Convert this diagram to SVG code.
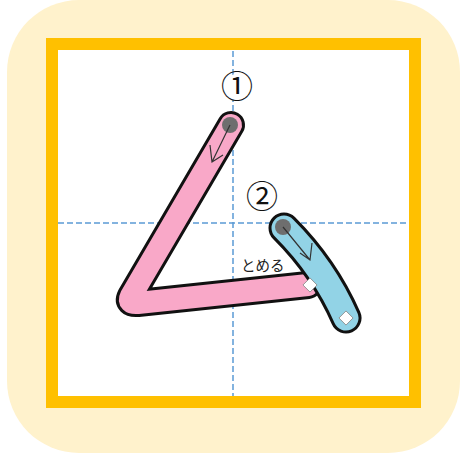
<svg xmlns="http://www.w3.org/2000/svg" width="463" height="457" viewBox="0 0 463 457">
<style>
.guide{stroke:#5B9BD5;stroke-width:1.5;stroke-dasharray:6 3;fill:none}
.outline{fill:none;stroke:#111;stroke-width:28;stroke-linecap:round;stroke-linejoin:round}
.pink{fill:none;stroke:#F9A8C8;stroke-width:22;stroke-linecap:round;stroke-linejoin:round}
.outline2{fill:none;stroke:#111;stroke-width:31;stroke-linecap:round;stroke-linejoin:round}
.blue{fill:none;stroke:#92D3E6;stroke-width:25;stroke-linecap:round;stroke-linejoin:round}
.dot{fill:#6E6E6E}
.dir{fill:none;stroke:#333;stroke-width:1.2}
.stop{fill:#fff;stroke:#888;stroke-width:0.8}
.num{font-family:"Noto Sans CJK JP","Noto Sans",sans-serif;font-size:32px;fill:#111;text-anchor:middle}
.lbl{font-family:"Noto Sans CJK JP",sans-serif;font-size:14.5px;fill:#222}
</style>
<rect x="7" y="0" width="453" height="453" rx="72" fill="#FFF2CC"/>
<rect id="frame" x="52" y="44" width="363" height="358" fill="#fff" stroke="#FFC000" stroke-width="12"/>
<g id="guides">
<line class="guide" x1="233" y1="51" x2="233" y2="396"/>
<line class="guide" x1="58" y1="223" x2="409" y2="223"/>
</g>
<g id="stroke1">
<path class="outline" d="M231,125 L131,296 Q127,304 138,303 L308,285"/>
<path class="pink" d="M231,125 L131,296 Q127,304 138,303 L308,285"/>
<circle class="dot" cx="230" cy="125" r="8"/>
</g>
<g id="stroke2">
<path class="outline2" d="M284,228 Q324,268 346,318"/>
<path class="blue" d="M284,228 Q324,268 346,318"/>
<circle class="dot" cx="283" cy="227" r="8"/>
</g>
<g id="connectors">
<path class="dir" d="M230,125 L212,162 M210,145 L212,162 L223,155"/>
<path class="dir" d="M283,227 L310,260 M300,253 L310,260 L312,243"/>
</g>
<g id="stops">
<rect class="stop" x="-5" y="-5" width="10" height="10" transform="translate(310,285) rotate(45)"/>
<rect class="stop" x="-5" y="-5" width="10" height="10" transform="translate(346,318) rotate(45)"/>
</g>
<g id="num1">
<circle cx="237" cy="87" r="13" fill="#fff"/>
<text class="num" x="237" y="98">①</text>
</g>
<g id="num2">
<text class="num" x="262" y="208">②</text>
</g>
<g id="label">
<text class="lbl" x="241" y="271">とめる</text>
</g>
</svg>
